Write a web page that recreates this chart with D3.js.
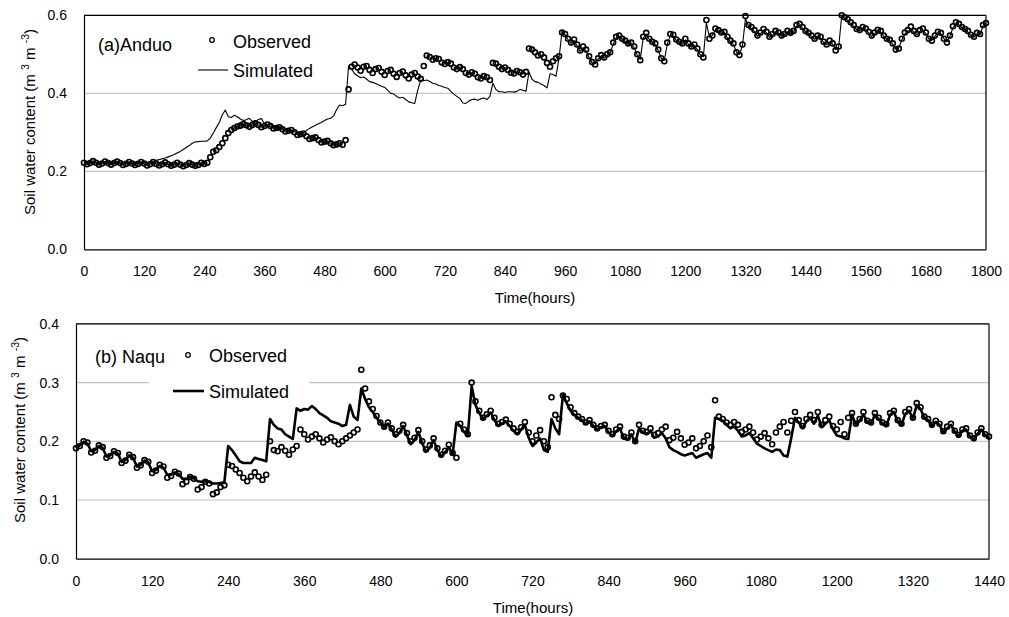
<!DOCTYPE html>
<html><head><meta charset="utf-8">
<script src="https://cdn.jsdelivr.net/npm/d3@7"></script>
<style>body{margin:0;background:#fff}svg{display:block}</style>
</head><body>
<svg id="chart" width="1009" height="617"></svg>
<script>
// Soil water content, 6-hourly values (m3 m-3)
const stepHours = 6;

const anduoObserved = [
0.222,0.218,0.221,0.226,0.222,0.217,0.220,0.225,0.221,0.217,
0.221,0.225,0.221,0.216,0.219,0.224,0.220,0.216,0.219,0.224,
0.220,0.215,0.218,0.224,0.219,0.215,0.218,0.223,0.218,0.214,
0.217,0.222,0.217,0.213,0.216,0.221,0.217,0.214,0.216,0.222,
0.219,0.222,0.236,0.250,0.254,0.262,0.272,0.285,0.298,0.306,
0.311,0.315,0.317,0.321,0.318,0.314,0.319,0.323,0.319,0.313,
0.316,0.320,0.316,0.310,0.311,0.313,0.308,0.302,0.304,0.306,
0.300,0.293,0.295,0.297,0.290,0.283,0.285,0.287,0.280,0.274,
0.276,0.278,0.272,0.267,0.269,0.272,0.268,0.280,0.410,0.468,
0.474,0.466,0.458,0.468,0.470,0.460,0.452,0.462,0.465,0.455,
0.447,0.457,0.460,0.450,0.442,0.452,0.456,0.446,0.438,0.448,
0.452,0.443,0.437,0.470,0.497,0.493,0.486,0.490,0.488,0.479,
0.475,0.480,0.476,0.466,0.462,0.467,0.462,0.452,0.448,0.454,
0.450,0.441,0.438,0.444,0.441,0.434,0.478,0.476,0.468,0.462,
0.466,0.460,0.453,0.451,0.457,0.454,0.448,0.455,0.515,0.512,
0.505,0.497,0.500,0.492,0.478,0.468,0.482,0.490,0.495,0.556,
0.552,0.540,0.530,0.538,0.525,0.510,0.520,0.512,0.495,0.480,
0.474,0.490,0.498,0.492,0.500,0.505,0.530,0.545,0.548,0.540,
0.535,0.528,0.530,0.520,0.500,0.485,0.545,0.555,0.540,0.532,
0.528,0.512,0.490,0.482,0.530,0.552,0.550,0.538,0.532,0.528,
0.540,0.528,0.520,0.525,0.515,0.500,0.492,0.588,0.540,0.548,
0.566,0.562,0.556,0.558,0.545,0.535,0.528,0.505,0.498,0.525,
0.598,0.575,0.570,0.562,0.548,0.556,0.565,0.558,0.545,0.552,
0.560,0.556,0.548,0.552,0.560,0.555,0.560,0.575,0.578,0.570,
0.560,0.555,0.548,0.540,0.548,0.545,0.532,0.525,0.535,0.528,
0.510,0.520,0.600,0.595,0.590,0.582,0.575,0.565,0.562,0.570,
0.566,0.558,0.548,0.556,0.563,0.560,0.548,0.540,0.537,0.528,
0.512,0.515,0.540,0.556,0.562,0.571,0.560,0.552,0.562,0.566,
0.556,0.540,0.535,0.548,0.558,0.555,0.540,0.530,0.548,0.572,
0.582,0.578,0.570,0.565,0.560,0.550,0.545,0.555,0.552,0.575,
0.580];

const anduoSimulated = [
0.222,0.221,0.222,0.223,0.222,0.221,0.222,0.222,0.221,0.221,
0.222,0.222,0.221,0.221,0.222,0.222,0.221,0.221,0.222,0.222,
0.222,0.223,0.224,0.226,0.228,0.230,0.232,0.234,0.237,0.240,
0.243,0.247,0.251,0.256,0.261,0.266,0.272,0.275,0.276,0.277,
0.277,0.278,0.285,0.298,0.312,0.325,0.345,0.357,0.340,0.338,
0.344,0.340,0.334,0.330,0.332,0.336,0.328,0.326,0.333,0.335,
0.322,0.318,0.322,0.316,0.312,0.314,0.310,0.306,0.308,0.304,
0.302,0.300,0.300,0.298,0.305,0.310,0.314,0.318,0.322,0.326,
0.330,0.334,0.336,0.342,0.358,0.370,0.368,0.372,0.470,0.462,
0.450,0.445,0.440,0.442,0.436,0.430,0.428,0.425,0.421,0.418,
0.415,0.408,0.400,0.398,0.392,0.388,0.390,0.384,0.378,0.376,
0.374,0.408,0.434,0.432,0.434,0.430,0.426,0.424,0.420,0.418,
0.415,0.413,0.405,0.398,0.392,0.387,0.375,0.374,0.380,0.384,
0.385,0.382,0.386,0.388,0.384,0.392,0.426,0.410,0.404,0.404,
0.402,0.404,0.404,0.403,0.405,0.410,0.408,0.405,0.455,0.436,
0.430,0.428,0.424,0.420,0.414,0.450,0.448,0.444,0.490,0.560,
0.550,0.538,0.528,0.535,0.522,0.508,0.516,0.508,0.492,0.478,
0.476,0.488,0.495,0.490,0.497,0.503,0.526,0.542,0.545,0.538,
0.532,0.525,0.527,0.517,0.498,0.487,0.542,0.552,0.538,0.530,
0.525,0.510,0.490,0.484,0.526,0.548,0.547,0.535,0.530,0.525,
0.537,0.526,0.518,0.522,0.512,0.498,0.494,0.580,0.545,0.548,
0.562,0.558,0.553,0.555,0.542,0.532,0.525,0.506,0.500,0.522,
0.592,0.572,0.566,0.558,0.546,0.553,0.561,0.555,0.543,0.549,
0.557,0.553,0.546,0.550,0.557,0.552,0.557,0.571,0.574,0.567,
0.557,0.552,0.546,0.538,0.545,0.542,0.530,0.524,0.532,0.526,
0.512,0.518,0.598,0.592,0.586,0.578,0.572,0.563,0.560,0.566,
0.562,0.555,0.546,0.553,0.560,0.557,0.546,0.538,0.535,0.526,
0.514,0.516,0.537,0.552,0.558,0.566,0.557,0.550,0.558,0.562,
0.553,0.540,0.536,0.546,0.555,0.552,0.540,0.532,0.546,0.568,
0.578,0.575,0.568,0.562,0.557,0.548,0.544,0.552,0.550,0.572,
0.578];

const naquObserved = [
0.188,0.192,0.200,0.198,0.181,0.184,0.193,0.190,0.172,0.175,
0.183,0.180,0.163,0.167,0.177,0.173,0.155,0.159,0.168,0.165,
0.146,0.150,0.160,0.157,0.138,0.141,0.148,0.145,0.127,0.131,
0.139,0.136,0.118,0.122,0.131,0.128,0.110,0.113,0.122,0.125,
0.160,0.158,0.152,0.146,0.138,0.132,0.140,0.147,0.140,0.134,
0.143,0.200,0.185,0.183,0.190,0.184,0.177,0.186,0.192,0.220,
0.212,0.203,0.208,0.212,0.205,0.198,0.203,0.207,0.200,0.195,
0.200,0.205,0.210,0.215,0.220,0.322,0.290,0.268,0.255,0.243,
0.232,0.225,0.232,0.222,0.212,0.218,0.228,0.214,0.200,0.206,
0.219,0.200,0.186,0.193,0.205,0.188,0.177,0.184,0.194,0.180,
0.172,0.230,0.220,0.212,0.300,0.268,0.252,0.240,0.246,0.252,
0.240,0.230,0.233,0.237,0.230,0.222,0.216,0.224,0.233,0.215,
0.200,0.210,0.219,0.200,0.190,0.275,0.245,0.238,0.278,0.272,
0.258,0.248,0.242,0.238,0.232,0.236,0.228,0.222,0.226,0.228,
0.218,0.212,0.220,0.225,0.208,0.206,0.215,0.200,0.228,0.218,
0.216,0.222,0.211,0.214,0.220,0.225,0.202,0.206,0.216,0.205,
0.194,0.198,0.205,0.188,0.192,0.200,0.210,0.190,0.270,0.242,
0.238,0.232,0.228,0.233,0.228,0.216,0.220,0.225,0.215,0.203,
0.208,0.214,0.205,0.195,0.215,0.225,0.233,0.215,0.235,0.250,
0.236,0.226,0.238,0.245,0.236,0.250,0.228,0.236,0.242,0.226,
0.220,0.233,0.212,0.240,0.248,0.230,0.238,0.250,0.235,0.232,
0.248,0.240,0.232,0.229,0.248,0.252,0.236,0.230,0.250,0.255,
0.240,0.265,0.258,0.242,0.238,0.228,0.235,0.230,0.217,0.225,
0.230,0.218,0.211,0.220,0.222,0.210,0.205,0.215,0.222,0.212,
0.208];

const naquSimulated = [
0.188,0.193,0.199,0.196,0.183,0.185,0.192,0.189,0.174,0.176,
0.182,0.179,0.165,0.168,0.176,0.172,0.157,0.160,0.167,0.164,
0.149,0.151,0.158,0.155,0.143,0.143,0.147,0.144,0.136,0.136,
0.139,0.137,0.132,0.131,0.132,0.131,0.128,0.128,0.129,0.130,
0.192,0.185,0.176,0.166,0.163,0.163,0.163,0.172,0.170,0.168,
0.166,0.238,0.228,0.222,0.220,0.212,0.208,0.204,0.256,0.252,
0.255,0.254,0.260,0.255,0.248,0.244,0.240,0.234,0.232,0.230,
0.226,0.228,0.262,0.242,0.236,0.290,0.272,0.258,0.250,0.240,
0.232,0.224,0.230,0.220,0.208,0.214,0.226,0.210,0.195,0.202,
0.216,0.197,0.182,0.189,0.202,0.185,0.174,0.181,0.190,0.178,
0.232,0.226,0.216,0.210,0.294,0.262,0.248,0.238,0.244,0.249,
0.236,0.226,0.230,0.234,0.226,0.218,0.212,0.220,0.228,0.206,
0.192,0.198,0.205,0.185,0.182,0.238,0.222,0.212,0.280,0.265,
0.252,0.245,0.240,0.236,0.230,0.234,0.226,0.220,0.224,0.226,
0.215,0.209,0.217,0.222,0.205,0.203,0.212,0.197,0.222,0.215,
0.212,0.218,0.206,0.208,0.214,0.205,0.190,0.185,0.182,0.178,
0.176,0.178,0.180,0.172,0.175,0.178,0.180,0.172,0.240,0.238,
0.235,0.228,0.222,0.225,0.218,0.208,0.210,0.214,0.205,0.196,
0.192,0.188,0.185,0.182,0.186,0.185,0.176,0.174,0.205,0.240,
0.232,0.222,0.234,0.240,0.230,0.244,0.224,0.230,0.236,0.220,
0.210,0.208,0.205,0.204,0.245,0.228,0.235,0.246,0.232,0.230,
0.245,0.238,0.230,0.226,0.245,0.250,0.234,0.228,0.247,0.252,
0.238,0.262,0.255,0.240,0.236,0.226,0.233,0.228,0.215,0.222,
0.228,0.216,0.209,0.218,0.220,0.208,0.203,0.213,0.220,0.210,
0.206];

const anduoXTicks = [0,120,240,360,480,600,720,840,960,1080,1200,1320,1440,1560,1680,1800];
const anduoYTicks = [0.0,0.2,0.4,0.6];
const naquXTicks = [0,120,240,360,480,600,720,840,960,1080,1200,1320,1440];
const naquYTicks = [0.0,0.1,0.2,0.3,0.4];

const FONT = "'Liberation Sans', Arial, sans-serif";
const svg = d3.select("#chart");

function drawPanel(cfg) {
  const g = svg.append("g");
  const x = d3.scaleLinear().domain([0, cfg.xTicks[cfg.xTicks.length - 1]]).range([cfg.left, cfg.right]);
  const y = d3.scaleLinear().domain([0, cfg.yTicks[cfg.yTicks.length - 1]]).range([cfg.bottom, cfg.top]);

  // horizontal gridlines
  g.selectAll("line.grid").data(cfg.yTicks.slice(1)).join("line")
    .attr("class", "grid")
    .attr("x1", cfg.left).attr("x2", cfg.right)
    .attr("y1", d => y(d)).attr("y2", d => y(d))
    .attr("stroke", "#c4c4c4").attr("stroke-width", 1.2);

  // legend background
  if (cfg.legendBox) {
    const b = cfg.legendBox;
    g.append("rect").attr("x", b[0]).attr("y", b[1]).attr("width", b[2]).attr("height", b[3]).attr("fill", "#fff");
  }

  const pts = (arr) => arr.map((v, i) => [i * stepHours, v]);

  // observed: open circles
  g.append("g").selectAll("circle").data(pts(cfg.observed)).join("circle")
    .attr("cx", d => x(d[0])).attr("cy", d => y(d[1])).attr("r", 2.5)
    .attr("fill", "none").attr("stroke", "#000").attr("stroke-width", 1.6);

  // simulated: line
  g.append("path").datum(pts(cfg.simulated))
    .attr("d", d3.line().x(d => x(d[0])).y(d => y(d[1])))
    .attr("fill", "none").attr("stroke", "#000").attr("stroke-width", cfg.simWidth)
    .attr("stroke-linejoin", "round");

  // frame
  g.append("line").attr("x1", cfg.left).attr("x2", cfg.right).attr("y1", cfg.top).attr("y2", cfg.top)
    .attr("stroke", "#000").attr("stroke-width", 1.2);
  g.append("line").attr("x1", cfg.right).attr("x2", cfg.right).attr("y1", cfg.top).attr("y2", cfg.bottom)
    .attr("stroke", "#000").attr("stroke-width", 1.2);

  const xAxis = g.append("g").attr("transform", `translate(0,${cfg.bottom})`)
    .call(d3.axisBottom(x).tickValues(cfg.xTicks).tickSize(0).tickPadding(cfg.xPad).tickFormat(d3.format("d")));
  const yAxis = g.append("g").attr("transform", `translate(${cfg.left},0)`)
    .call(d3.axisLeft(y).tickValues(cfg.yTicks).tickSize(0).tickPadding(cfg.yPad).tickFormat(d3.format(".1f")));
  [xAxis, yAxis].forEach(a => {
    a.select(".domain").attr("stroke", "#000").attr("stroke-width", 1.2);
    a.selectAll("text").attr("font-family", FONT).attr("font-size", 14).attr("fill", "#000");
  });

  // axis titles
  g.append("text").attr("x", cfg.xTitle[0]).attr("y", cfg.xTitle[1]).attr("text-anchor", "middle")
    .attr("font-family", FONT).attr("font-size", 15).text("Time(hours)");
  const yt = g.append("text").attr("transform", `translate(${cfg.yTitle[0]},${cfg.yTitle[1]}) rotate(-90)`)
    .attr("text-anchor", "middle").attr("font-family", FONT).attr("font-size", 15);
  yt.append("tspan").text("Soil water content (m ");
  yt.append("tspan").attr("baseline-shift", "super").attr("font-size", 10.5).text("3");
  yt.append("tspan").text(" m ");
  yt.append("tspan").attr("baseline-shift", "super").attr("font-size", 10.5).text("-3");
  yt.append("tspan").text(")");

  // legend
  const L = cfg.legend;
  g.append("text").attr("x", L.label[0]).attr("y", L.label[1]).attr("font-family", FONT).attr("font-size", 18).text(cfg.name);
  g.append("circle").attr("cx", L.marker[0]).attr("cy", L.marker[1]).attr("r", 2.3)
    .attr("fill", "none").attr("stroke", "#000").attr("stroke-width", 1.3);
  g.append("text").attr("x", L.obsText[0]).attr("y", L.obsText[1]).attr("font-family", FONT).attr("font-size", 18).text("Observed");
  g.append("line").attr("x1", L.line[0]).attr("x2", L.line[1]).attr("y1", L.line[2]).attr("y2", L.line[2])
    .attr("stroke", "#000").attr("stroke-width", cfg.simWidth);
  g.append("text").attr("x", L.simText[0]).attr("y", L.simText[1]).attr("font-family", FONT).attr("font-size", 18).text("Simulated");
}

drawPanel({
  name: "(a)Anduo",
  observed: anduoObserved, simulated: anduoSimulated,
  xTicks: anduoXTicks, yTicks: anduoYTicks,
  left: 84, right: 986, top: 15.3, bottom: 249.3,
  xPad: 17, yPad: 17, simWidth: 1.1,
  xTitle: [535, 303], yTitle: [35, 122],
  legend: { label: [98, 50.5], marker: [212, 40], obsText: [233, 47.5], line: [198, 228, 70], simText: [233, 76.5] }
});

drawPanel({
  name: "(b) Naqu",
  observed: naquObserved, simulated: naquSimulated,
  xTicks: naquXTicks, yTicks: naquYTicks,
  left: 76, right: 989, top: 323.9, bottom: 558.7,
  xPad: 17.5, yPad: 17, simWidth: 2.6,
  xTitle: [533, 613], yTitle: [25, 430],
  legendBox: [149, 368, 160, 32],
  legend: { label: [95, 362.5], marker: [188, 355], obsText: [209, 361.5], line: [173, 204, 391], simText: [209, 397.5] }
});
</script>
</body></html>
